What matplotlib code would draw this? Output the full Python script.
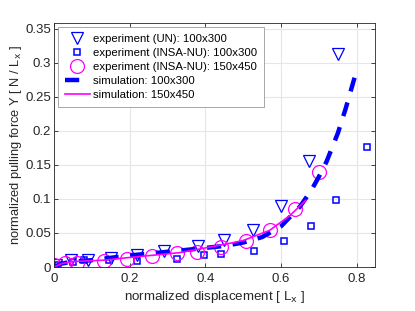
import numpy as np
import matplotlib.pyplot as plt

plt.rcParams['font.family'] = ['Liberation Sans', 'DejaVu Sans']

# experiment (UN): 100x300
un_x = [0.005, 0.045, 0.09, 0.15, 0.22, 0.29, 0.38, 0.45, 0.526, 0.60, 0.673, 0.749]
un_y = [0.003, 0.010, 0.011, 0.013, 0.018, 0.024, 0.031, 0.039, 0.054, 0.090, 0.156, 0.313]

# experiment (INSA-NU): 100x300
insa_x = [0.01, 0.05, 0.08, 0.145, 0.22, 0.325, 0.396, 0.44, 0.528, 0.607, 0.68, 0.746, 0.826]
insa_y = [0.003, 0.008, 0.010, 0.010, 0.009, 0.012, 0.017, 0.019, 0.024, 0.038, 0.061, 0.099, 0.176]

# experiment (INSA-NU): 150x450
insa2_x = [0.0, 0.03, 0.06, 0.133, 0.194, 0.26, 0.325, 0.378, 0.442, 0.507, 0.57, 0.636, 0.70]
insa2_y = [0.003, 0.006, 0.006, 0.009, 0.012, 0.016, 0.020, 0.0225, 0.029, 0.0387, 0.054, 0.085, 0.140]

# simulation: 100x300
sim1_x = [0.0, 0.02, 0.05, 0.1, 0.2, 0.33, 0.45, 0.5, 0.55, 0.6, 0.65, 0.68, 0.7, 0.72, 0.75, 0.77, 0.8]
sim1_y = [0.0, 0.005, 0.008, 0.010, 0.017, 0.024, 0.031, 0.036, 0.044, 0.060, 0.089, 0.113, 0.133, 0.155, 0.197, 0.232, 0.290]

# simulation: 150x450
sim2_x = [0.0, 0.02, 0.05, 0.13, 0.2, 0.33, 0.39, 0.475, 0.5, 0.57, 0.624, 0.665]
sim2_y = [0.0, 0.005, 0.008, 0.010, 0.014, 0.021, 0.027, 0.036, 0.039, 0.054, 0.076, 0.098]

fig = plt.figure(figsize=(4.15, 3.11), dpi=100)
ax = fig.add_axes([54/415, 1-267/311, 321/415, 244/311])

ax.plot(un_x, un_y, 'v', ms=8, mfc='none', mec='#0000ff', mew=0.9,
        label='experiment (UN): 100x300')
ax.plot(insa_x, insa_y, 's', ms=4.5, mfc='none', mec='#0000ff', mew=1.1,
        label='experiment (INSA-NU): 100x300')
ax.plot(insa2_x, insa2_y, 'o', ms=10, mfc='none', mec='#ff00ff', mew=0.9,
        label='experiment (INSA-NU): 150x450')
ax.plot(sim1_x, sim1_y, '--', color='#0000ff', lw=3.2, dashes=(3.2, 2.6),
        label='simulation: 100x300')
ax.plot(sim2_x, sim2_y, '-', color='#ff00ff', lw=1.2,
        label='simulation: 150x450')

ax.set_xlim(0, 0.848)
ax.set_ylim(0, 0.3588)
ax.set_xticks([0, 0.2, 0.4, 0.6, 0.8])
ax.set_xticklabels(['0', '0.2', '0.4', '0.6', '0.8'])
ax.set_yticks([0, 0.05, 0.1, 0.15, 0.2, 0.25, 0.3, 0.35])
ax.set_yticklabels(['0', '0.05', '0.1', '0.15', '0.2', '0.25', '0.3', '0.35'])
ax.grid(True, color='#e6e6e6', lw=0.8)
ax.set_axisbelow(True)
ax.tick_params(direction='in', top=True, right=True, length=3, width=0.6,
               color='#262626', labelsize=9.5, labelcolor='#262626', pad=2)
ax.tick_params(axis='x', pad=4)
for s in ax.spines.values():
    s.set_color('#262626')
    s.set_linewidth(0.6)

ax.set_xlabel('normalized displacement [ L$_{\\rm x}$ ]', fontsize=9.6, color='#262626', labelpad=3)
ax.set_ylabel('normalized pulling force Y [ N / L$_{\\rm x}$ ]', fontsize=9.3, color='#262626', labelpad=1)

leg = ax.legend(loc='upper left', fontsize=8.2, frameon=True, fancybox=False,
                edgecolor='#999999', framealpha=1, borderpad=0.6, labelspacing=0.36,
                handlelength=2.2, handletextpad=0.3, borderaxespad=0.35)
leg.get_frame().set_linewidth(0.6)

fig.savefig('out.png', dpi=100)
